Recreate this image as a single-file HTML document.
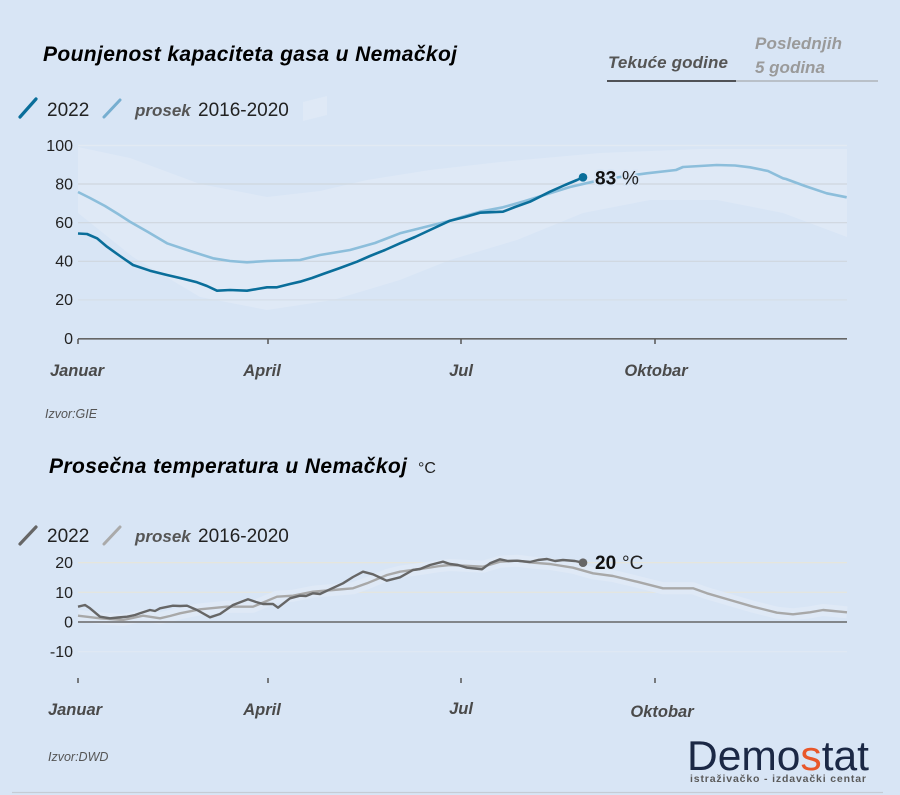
<!DOCTYPE html>
<html>
<head>
<meta charset="utf-8">
<style>
  html,body{margin:0;padding:0;background:#d8e5f5;}
  svg{display:block;}
  text{font-family:"Liberation Sans",Arial,sans-serif;}
</style>
</head>
<body>
<svg width="900" height="795" viewBox="0 0 900 795" xmlns="http://www.w3.org/2000/svg">
  <rect x="0" y="0" width="900" height="795" fill="#d8e5f5"/>

  <!-- ===== TOP CHART ===== -->
  <text x="43" y="61" font-size="21" font-weight="bold" font-style="italic" fill="#000" textLength="414" lengthAdjust="spacing">Pounjenost kapaciteta gasa u Nemačkoj</text>

  <!-- tabs -->
  <text x="608" y="68" font-size="17" font-weight="bold" font-style="italic" fill="#555" textLength="120" lengthAdjust="spacing">Tekuće godine</text>
  <text x="755" y="49" font-size="17" font-weight="bold" font-style="italic" fill="#9a9a9a" textLength="87" lengthAdjust="spacing">Poslednjih</text>
  <text x="755" y="73" font-size="17" font-weight="bold" font-style="italic" fill="#9a9a9a">5 godina</text>
  <line x1="607" y1="81" x2="736" y2="81" stroke="#222" stroke-width="1.5"/>
  <line x1="736" y1="81" x2="878" y2="81" stroke="#9a9a9a" stroke-width="1"/>

  <!-- odd light shape -->
  <polygon points="303,102 327,96 327,115 303,121" fill="#dfe9f6"/>

  <!-- legend -->
  <line x1="20" y1="117" x2="36" y2="99" stroke="#0a6e9a" stroke-width="3.2" stroke-linecap="round"/>
  <text x="47" y="116" font-size="19" fill="#222">2022</text>
  <line x1="104" y1="117" x2="120" y2="100" stroke="#76aed0" stroke-width="3" stroke-linecap="round"/>
  <text x="135" y="116" font-size="17" font-weight="bold" font-style="italic" fill="#555">prosek</text>
  <text x="198" y="116" font-size="19" fill="#222">2016-2020</text>

  <!-- band -->
  <polygon fill="#dfe9f6" points="78,147 130,158 200,184 267,197 320,191 367,180 430,170 500,162 600,153 700,149 847,149 847,237 783,213 717,200 650,200 583,213 517,240 450,260 400,280 333,300 267,310 200,297 133,257 78,213"/>

  <!-- grid -->
  <line x1="78" y1="145.5" x2="847" y2="145.5" stroke="#e2eaf3" stroke-width="1.2"/>
  <line x1="78" y1="184" x2="847" y2="184" stroke="#cfd6de" stroke-width="1.2"/>
  <line x1="78" y1="222.7" x2="847" y2="222.7" stroke="#cfd6de" stroke-width="1.2"/>
  <line x1="78" y1="261.3" x2="847" y2="261.3" stroke="#cfd6de" stroke-width="1.2"/>
  <line x1="78" y1="299.9" x2="847" y2="299.9" stroke="#d6dee8" stroke-width="1.2"/>

  <!-- y labels -->
  <g font-size="16" fill="#222" text-anchor="end">
    <text x="73" y="151">100</text>
    <text x="73" y="189.5">80</text>
    <text x="73" y="228">60</text>
    <text x="73" y="266.5">40</text>
    <text x="73" y="305">20</text>
    <text x="73" y="344">0</text>
  </g>

  <!-- axis -->
  <line x1="78" y1="338.8" x2="847" y2="338.8" stroke="#666" stroke-width="1.6"/>
  <g stroke="#555" stroke-width="1.5">
    <line x1="78" y1="339" x2="78" y2="344"/>
    <line x1="268" y1="339" x2="268" y2="344"/>
    <line x1="461" y1="339" x2="461" y2="344"/>
    <line x1="655" y1="339" x2="655" y2="344"/>
  </g>
  <g font-size="16.5" font-weight="bold" font-style="italic" fill="#4a4a4a" text-anchor="middle">
    <text x="77" y="376">Januar</text>
    <text x="262" y="376">April</text>
    <text x="461" y="376">Jul</text>
    <text x="656" y="376">Oktobar</text>
  </g>

  <!-- avg gas line -->
  <polyline fill="none" stroke="#8cbedb" stroke-width="2.6" stroke-linejoin="round" points="78,192 90,198 105,206 118,214 130,221.7 148,232 167,243.3 190,251 213,258.3 230,261 247,262.3 267,261 300,260 320,255 350,250 375,243 400,233.3 425,227 450,220.7 465,216 480,211.7 503,207.3 525,201 550,193.3 570,187 593,181.7 620,177 646.7,173.3 676,170 683,167 700,166 716.7,165 735,165.5 750,167.3 768,171 783,178.3 786,179 805,186 826.7,193.3 846.7,197.3"/>

  <!-- 2022 gas line -->
  <polyline fill="none" stroke="#0a6e9a" stroke-width="2.6" stroke-linejoin="round" points="78,233.5 87,234 97,238.3 107,246.7 120,256 133,265 150,270.7 167,275 180,278 197,282.3 207,286 217,290.7 230,290 247,290.7 257,289 267,287.3 277,287.3 290,284 300,281.7 312,278 323,274 340,268 357,261.7 370,256 385,250 400,243.3 415,237 430,230 450,220.7 465,217 480,212.7 503,211.7 515,207 530,201.7 550,191.7 565,185 577,180 583,177.3"/>
  <circle cx="583" cy="177.3" r="4.3" fill="#0a6e9a"/>
  <text x="595" y="184.5" font-size="19" font-weight="bold" fill="#111" stroke="#d8e5f5" stroke-width="4" paint-order="stroke">83</text>
  <text x="622" y="184.5" font-size="19" fill="#222" stroke="#d8e5f5" stroke-width="3" paint-order="stroke">%</text>

  <text x="45" y="418" font-size="12.5" font-style="italic" fill="#555">Izvor:GIE</text>

  <!-- ===== BOTTOM CHART ===== -->
  <text x="49" y="473" font-size="21" font-weight="bold" font-style="italic" fill="#000" textLength="358" lengthAdjust="spacing">Prosečna temperatura u Nemačkoj</text>
  <text x="418" y="473" font-size="16" fill="#222">°C</text>

  <line x1="20" y1="544" x2="36" y2="527" stroke="#666" stroke-width="3.2" stroke-linecap="round"/>
  <text x="47" y="542" font-size="19" fill="#222">2022</text>
  <line x1="104" y1="544" x2="120" y2="527" stroke="#aaa" stroke-width="3" stroke-linecap="round"/>
  <text x="135" y="542" font-size="17" font-weight="bold" font-style="italic" fill="#555">prosek</text>
  <text x="198" y="542" font-size="19" fill="#222">2016-2020</text>

  <!-- temp grid -->
  <line x1="78" y1="562.6" x2="847" y2="562.6" stroke="#e6e6dc" stroke-width="1.2"/>
  <line x1="78" y1="592.3" x2="847" y2="592.3" stroke="#e6e6dc" stroke-width="1.2"/>
  <line x1="78" y1="651.7" x2="847" y2="651.7" stroke="#e0e9f4" stroke-width="1.2"/>

  <!-- faint temp band -->
  <polyline fill="none" stroke="#dfe9f6" stroke-width="12" stroke-linejoin="round" points="78,615.7 100,618.3 123,620 143,615.7 160,618.3 170,616 180,613.3 200,609.3 227,606.7 253,606.7 277,596.7 293,595.7 313,591.7 333,590 353,588.3 367,583.3 387,575 400,571.7 420,569 440,566 450,565 483,566.7 500,561.7 517,560.7 533,562.7 550,564 573,567.7 593,573.3 613,576 637,581.7 663,588.3 693,588.3 707,593.3 730,600 753,606.7 777,612.7 793,614.3 810,612.3 823,610 847,612.3"/>

  <g font-size="16" fill="#222" text-anchor="end">
    <text x="73" y="568">20</text>
    <text x="73" y="598">10</text>
    <text x="73" y="627.5">0</text>
    <text x="73" y="657">-10</text>
  </g>

  <line x1="78" y1="622" x2="847" y2="622" stroke="#666" stroke-width="1.6"/>
  <g stroke="#555" stroke-width="1.5">
    <line x1="78" y1="678" x2="78" y2="683"/>
    <line x1="268" y1="678" x2="268" y2="683"/>
    <line x1="461" y1="678" x2="461" y2="683"/>
    <line x1="655" y1="678" x2="655" y2="683"/>
  </g>
  <g font-size="16.5" font-weight="bold" font-style="italic" fill="#4a4a4a" text-anchor="middle">
    <text x="75" y="715">Januar</text>
    <text x="262" y="715">April</text>
    <text x="461" y="714">Jul</text>
    <text x="662" y="717">Oktobar</text>
  </g>

  <!-- avg temp -->
  <polyline fill="none" stroke="#a8a8a8" stroke-width="2.4" stroke-linejoin="round" points="78,615.7 100,618.3 123,620 143,615.7 160,618.3 170,616 180,613.3 200,609.3 227,606.7 253,606.7 277,596.7 293,595.7 313,591.7 333,590 353,588.3 367,583.3 387,575 400,571.7 420,569 440,566 450,565 483,566.7 500,561.7 517,560.7 533,562.7 550,564 573,567.7 593,573.3 613,576 637,581.7 663,588.3 693,588.3 707,593.3 730,600 753,606.7 777,612.7 793,614.3 810,612.3 823,610 847,612.3"/>

  <!-- 2022 temp -->
  <polyline fill="none" stroke="#666" stroke-width="2.4" stroke-linejoin="round" points="78,606.7 85,605 90,608.3 100,616.7 110,618.3 118,617.5 127,616.7 135,615 140,613.3 150,610 155,611 160,608.3 173,605.7 180,606 187,605.7 197,610 210,617.3 220,614 233,605 248,599.3 256,602 263,604 273,604 278,607.7 290,598.3 300,595.7 306,596 313,593.3 320,594 330,589.3 343,583.3 353,577 363,571.7 373,574.3 386.7,580.7 400,577.3 413,570 420,569 430,565 443,561.7 450,564 458,565 467,567.7 482,569.3 490,563.3 500,559.3 508,561 517,560.7 530,562 538,560 547,559 555,561 563,560 575,561 583,562.7"/>
  <circle cx="583" cy="562.7" r="4.3" fill="#666"/>
  <text x="595" y="569" font-size="19" font-weight="bold" fill="#111">20</text>
  <text x="622" y="569" font-size="19" fill="#222">°C</text>

  <text x="48" y="761" font-size="12.5" font-style="italic" fill="#555">Izvor:DWD</text>

  <!-- logo -->
  <text x="687" y="770" font-size="42" fill="#1b2845" textLength="182" lengthAdjust="spacingAndGlyphs">Demo<tspan fill="#e8572a">s</tspan>tat</text>
  <text x="690" y="782" font-size="10.5" font-weight="bold" fill="#5a5a5a" textLength="176" lengthAdjust="spacing">istraživačko - izdavački  centar</text>

  <line x1="12" y1="792.5" x2="883" y2="792.5" stroke="#c5ccd5" stroke-width="1.2"/>
</svg>
</body>
</html>
